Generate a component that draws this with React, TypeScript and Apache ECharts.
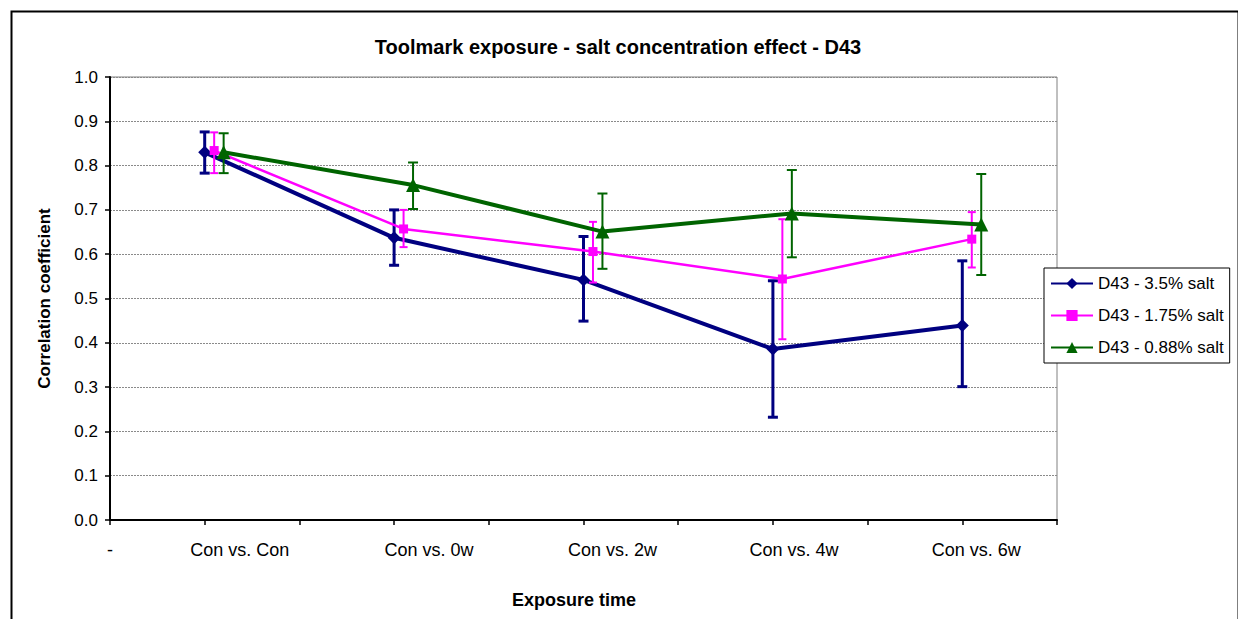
import React, { useEffect, useRef } from "react";
import * as echarts from "echarts";

const categories = ["Con vs. Con", "Con vs. 0w", "Con vs. 2w", "Con vs. 4w", "Con vs. 6w"];
const categoryPositions = [1, 3, 5, 7, 9];
const leftLabel = "-";

const seriesNames = ["D43 - 3.5% salt", "D43 - 1.75% salt", "D43 - 0.88% salt"];

const salt35Values = [0.83, 0.637, 0.542, 0.386, 0.439];
const salt35Low = [0.783, 0.575, 0.449, 0.232, 0.301];
const salt35High = [0.876, 0.70, 0.64, 0.54, 0.585];

const salt175Values = [0.834, 0.657, 0.606, 0.544, 0.634];
const salt175Low = [0.783, 0.616, 0.536, 0.408, 0.57];
const salt175High = [0.875, 0.70, 0.673, 0.679, 0.695];

const salt088Values = [0.83, 0.756, 0.651, 0.692, 0.667];
const salt088Low = [0.783, 0.702, 0.567, 0.593, 0.553];
const salt088High = [0.873, 0.807, 0.737, 0.79, 0.781];

const FONT = "Liberation Sans, Arial, sans-serif";
// horizontal shift (px) of each category label, as rendered in the original
const labelShift = [35, 35, 29, 21, 14];

export default function App() {
  const ref = useRef<HTMLDivElement>(null);
  useEffect(() => {
    if (!ref.current) return;
    const chart = echarts.init(ref.current, null, { renderer: "svg" });

    const defs = [
      { name: seriesNames[0], vals: salt35Values, lo: salt35Low, hi: salt35High, color: "#000080", off: 0, symbol: "diamond", size: 13, lw: 4, ebw: 3, cap: 5 },
      { name: seriesNames[1], vals: salt175Values, lo: salt175Low, hi: salt175High, color: "#ff00ff", off: 0.1, symbol: "rect", size: 9, lw: 2.5, ebw: 2, cap: 4 },
      { name: seriesNames[2], vals: salt088Values, lo: salt088Low, hi: salt088High, color: "#006400", off: 0.2, symbol: "triangle", size: 14, lw: 4, ebw: 2, cap: 5 },
    ];

    const series: any[] = [];
    defs.forEach((d, si) => {
      series.push({
        type: "custom",
        name: d.name + " err",
        z: 2 + si * 2,
        silent: true,
        data: categoryPositions.map((x, i) => [x + d.off, d.lo[i], d.hi[i]]),
        renderItem: (params: any, api: any) => {
          const x = api.value(0);
          const pLo = api.coord([x, api.value(1)]);
          const pHi = api.coord([x, api.value(2)]);
          const st = { stroke: d.color, lineWidth: d.ebw };
          return {
            type: "group",
            children: [
              { type: "line", shape: { x1: pLo[0], y1: pLo[1], x2: pHi[0], y2: pHi[1] }, style: st },
              { type: "line", shape: { x1: pLo[0] - d.cap, y1: pLo[1], x2: pLo[0] + d.cap, y2: pLo[1] }, style: st },
              { type: "line", shape: { x1: pHi[0] - d.cap, y1: pHi[1], x2: pHi[0] + d.cap, y2: pHi[1] }, style: st },
            ],
          };
        },
      });
      series.push({
        type: "line",
        name: d.name,
        z: 3 + si * 2,
        data: categoryPositions.map((x, i) => [x + d.off, d.vals[i]]),
        symbol: d.symbol,
        symbolSize: d.size,
        lineStyle: { color: d.color, width: d.lw },
        itemStyle: { color: d.color },
        showSymbol: true,
      });
    });

    const rich: any = {};
    labelShift.forEach((s, i) => {
      rich["c" + i] = { fontFamily: FONT, fontSize: 18, color: "#000", padding: [0, 0, 0, 2 * s] };
    });

    chart.setOption({
      animation: false,
      backgroundColor: "#ffffff",
      title: {
        text: "Toolmark exposure - salt concentration effect - D43",
        left: 613,
        textAlign: "center",
        top: 32,
        textStyle: { fontFamily: FONT, fontSize: 20, fontWeight: "bold", color: "#000" },
      },
      legend: {
        orient: "vertical",
        left: 1044,
        top: 268,
        data: seriesNames,
        backgroundColor: "#fff",
        borderColor: "#000",
        borderWidth: 1,
        padding: [7, 6, 7, 6],
        itemWidth: 42,
        itemHeight: 14,
        itemGap: 15,
        textStyle: { fontFamily: FONT, fontSize: 17, color: "#000" },
      },
      grid: {
        left: 110,
        top: 77,
        width: 947,
        height: 443,
        show: true,
        borderColor: "#808080",
        borderWidth: 1,
        backgroundColor: "transparent",
      },
      xAxis: {
        type: "value",
        min: 0,
        max: 10,
        interval: 1,
        axisLine: { show: true, lineStyle: { color: "#000", width: 2 } },
        axisTick: { show: true, inside: false, length: 5, lineStyle: { color: "#000", width: 1.5 } },
        splitLine: { show: false },
        axisLabel: {
          margin: 21,
          fontFamily: FONT,
          fontSize: 18,
          color: "#000",
          showMinLabel: true,
          showMaxLabel: true,
          rich,
          formatter: (v: number) => {
            if (v === 0) return leftLabel;
            const idx = categoryPositions.indexOf(v);
            return idx >= 0 ? "{c" + idx + "|" + categories[idx] + "}" : "";
          },
        },
      },
      yAxis: {
        type: "value",
        min: 0,
        max: 1,
        interval: 0.1,
        name: "Correlation coefficient",
        nameLocation: "middle",
        nameGap: 57,
        nameTextStyle: { fontFamily: FONT, fontSize: 17, fontWeight: "bold", color: "#000" },
        axisLine: { show: true, lineStyle: { color: "#000", width: 2 } },
        axisTick: { show: true, length: 5, lineStyle: { color: "#000", width: 1.5 } },
        splitLine: { show: true, lineStyle: { color: "#8a8a8a", width: 1, type: [2, 1] } },
        axisLabel: {
          margin: 12,
          fontFamily: FONT,
          fontSize: 17,
          color: "#000",
          formatter: (v: number) => v.toFixed(1),
        },
      },
      graphic: [
        {
          type: "rect",
          left: 9,
          top: 9,
          shape: { width: 1227, height: 640 },
          style: { fill: "none", stroke: "#000", lineWidth: 2 },
          silent: true,
          z: -10,
        },
        {
          type: "text",
          x: 574,
          y: 600,
          style: {
            text: "Exposure time",
            fontFamily: FONT,
            fontSize: 18,
            fontWeight: "bold",
            fill: "#000",
            align: "center",
            verticalAlign: "middle",
          },
        },
      ],
      series,
    });
    return () => chart.dispose();
  }, []);
  return (
    <div
      ref={ref}
      style={{ position: "absolute", left: 0, top: 0, width: 1238, height: 619 }}
    />
  );
}
